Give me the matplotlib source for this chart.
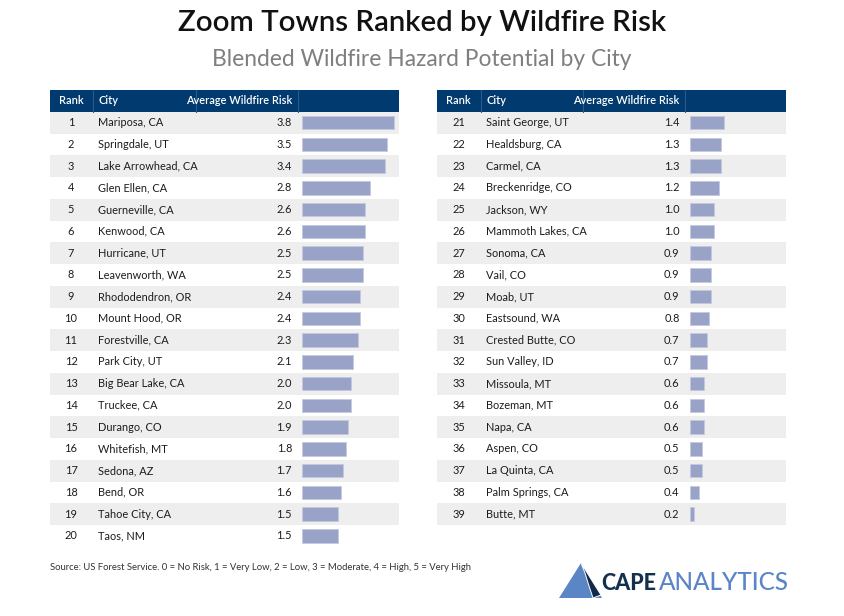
import matplotlib
matplotlib.use("Agg")
import matplotlib.pyplot as plt
from matplotlib.patches import Polygon

plt.rcParams['font.family'] = ['Lato', 'DejaVu Sans']

# ---------------- data ----------------
ranks_left = list(range(1, 21))
cities_left = ["Mariposa, CA", "Springdale, UT", "Lake Arrowhead, CA", "Glen Ellen, CA",
               "Guerneville, CA", "Kenwood, CA", "Hurricane, UT", "Leavenworth, WA",
               "Rhododendron, OR", "Mount Hood, OR", "Forestville, CA", "Park City, UT",
               "Big Bear Lake, CA", "Truckee, CA", "Durango, CO", "Whitefish, MT",
               "Sedona, AZ", "Bend, OR", "Tahoe City, CA", "Taos, NM"]
risk_left = [3.8, 3.5, 3.4, 2.8, 2.6, 2.6, 2.5, 2.5, 2.4, 2.4,
             2.3, 2.1, 2.0, 2.0, 1.9, 1.8, 1.7, 1.6, 1.5, 1.5]

ranks_right = list(range(21, 40))
cities_right = ["Saint George, UT", "Healdsburg, CA", "Carmel, CA", "Breckenridge, CO",
                "Jackson, WY", "Mammoth Lakes, CA", "Sonoma, CA", "Vail, CO", "Moab, UT",
                "Eastsound, WA", "Crested Butte, CO", "Sun Valley, ID", "Missoula, MT",
                "Bozeman, MT", "Napa, CA", "Aspen, CO", "La Quinta, CA", "Palm Springs, CA",
                "Butte, MT"]
risk_right = [1.4, 1.3, 1.3, 1.2, 1.0, 1.0, 0.9, 0.9, 0.9, 0.8,
              0.7, 0.7, 0.6, 0.6, 0.6, 0.5, 0.5, 0.4, 0.2]

headers = ["Rank", "City", "Average Wildfire Risk"]
title = "Zoom Towns Ranked by Wildfire Risk"
subtitle = "Blended Wildfire Hazard Potential by City"
source = "Source: US Forest Service. 0 = No Risk, 1 = Very Low, 2 = Low, 3 = Moderate, 4 = High, 5 = Very High"

# ---------------- styling ----------------
W, H = 844, 616
NAVY = '#013a6f'
DIVIDER = '#2b5a8c'
GRAY = '#eeeeee'
BAR = '#99a2c7'
TXT = '#1c1c1c'

TOP = 90.0
PITCH = 21.75
TABLE_W = 349.0
PX_PER_UNIT = 24.3
BAR_MAX = 4.0
NSLOTS = 21  # header + 20 rows


def rect(l, t, w, h):
    return [l / W, 1 - (t + h) / H, w / W, h / H]


fig = plt.figure(figsize=(W / 100, H / 100), dpi=100)
fig.patch.set_facecolor('white')


def draw_table(left, ranks, cities, vals):
    ax = fig.add_axes(rect(left, TOP, TABLE_W, NSLOTS * PITCH))
    ax.set_xlim(0, TABLE_W)
    ax.set_ylim(NSLOTS - 1.5, -1.5)
    ax.axis('off')
    # header
    ax.axhspan(-1.5, -0.5, color=NAVY, lw=0)
    for xd in (43.5, 146, 248):
        ax.plot([xd, xd], [-1.5, -0.5], color=DIVIDER, lw=0.8)
    ax.text(21.5, -1, headers[0], ha='center', va='center', color='white',
            fontsize=7.9, weight='semibold')
    ax.text(49, -1, headers[1], ha='left', va='center', color='white',
            fontsize=7.9, weight='semibold')
    ax.text(242.5, -1, headers[2], ha='right', va='center', color='white',
            fontsize=7.9, weight='semibold')
    # rows
    for i, (r, c, v) in enumerate(zip(ranks, cities, vals)):
        if i % 2 == 0:
            ax.axhspan(i - 0.5, i + 0.5, color=GRAY, lw=0)
        ax.text(21.5, i, str(r), ha='center', va='center', color=TXT, fontsize=7.9)
        ax.text(49, i, c, ha='left', va='center', color=TXT, fontsize=7.9)
        ax.text(242.5, i, f"{v:.1f}", ha='right', va='center', color=TXT, fontsize=7.9)
    # bars
    bax = fig.add_axes(rect(left + 252.5, TOP, BAR_MAX * PX_PER_UNIT, NSLOTS * PITCH))
    bax.set_xlim(0, BAR_MAX)
    bax.set_ylim(NSLOTS - 1.5, -1.5)
    bax.axis('off')
    bax.patch.set_alpha(0)
    bax.barh(range(len(vals)), vals, height=0.63, color=BAR,
             edgecolor='#c3c9df', linewidth=0.6)


draw_table(49.5, ranks_left, cities_left, risk_left)
draw_table(437.0, ranks_right, cities_right, risk_right)

# titles
fig.text(0.5, 1 - 23 / H, title, ha='center', va='center', fontsize=21.2,
         weight='semibold', color='#111111')
fig.text(0.5, 1 - 60 / H, subtitle, ha='center', va='center', fontsize=16.4,
         color='#7f7f7f')
fig.text(50 / W, 1 - 567 / H, source, ha='left', va='center', fontsize=6.8,
         color='#333333')

# logo
lax = fig.add_axes([0, 0, 1, 1])
lax.set_xlim(0, W)
lax.set_ylim(H, 0)
lax.axis('off')
lax.patch.set_alpha(0)
lax.add_patch(Polygon([(559, 598), (581, 563), (602, 598)], closed=True,
                      facecolor='#5a86c5', edgecolor='none'))
lax.add_patch(Polygon([(581, 563), (585, 573), (589, 586), (593, 598), (601, 595)],
                      closed=True, facecolor='#12294a', edgecolor='white', lw=0.7))
fig.text(601 / W, 1 - 583 / H, "CAPE", ha='left', va='center', fontsize=15.5,
         weight='black', color='#14304f')
fig.text(659 / W, 1 - 583 / H, "ANALYTICS", ha='left', va='center', fontsize=17.5,
         weight='medium', color='#5b85c6')

fig.savefig('out.png', dpi=100, facecolor='white')
